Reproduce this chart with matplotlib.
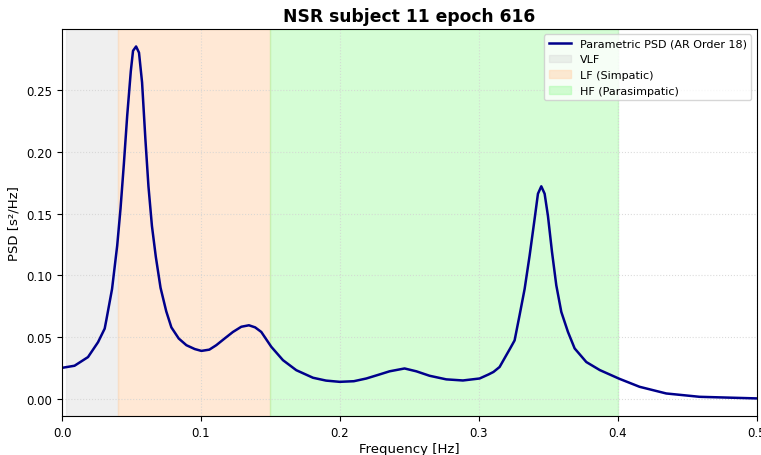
import matplotlib
matplotlib.use("Agg")
import matplotlib.pyplot as plt

# PSD curve (frequency in Hz, PSD in s^2/Hz)
freq = [0.0, 0.009, 0.0187, 0.0259, 0.0307, 0.0319, 0.036, 0.0397, 0.0421,
        0.0445, 0.0469, 0.0495, 0.0511, 0.0533, 0.0554, 0.0576, 0.060,
        0.0622, 0.0647, 0.0675, 0.0709, 0.075, 0.0787, 0.084, 0.0895, 0.0955,
        0.1003, 0.106, 0.111, 0.117, 0.123, 0.129, 0.1345, 0.139, 0.1434,
        0.1506, 0.159, 0.1686, 0.1806, 0.190, 0.1998, 0.210, 0.219, 0.2286,
        0.2357, 0.2465, 0.255, 0.2645, 0.2765, 0.2885, 0.3005, 0.307, 0.3105,
        0.3149, 0.3197, 0.3225, 0.3257, 0.3293, 0.3329, 0.3365, 0.3401,
        0.3425, 0.3449, 0.3473, 0.3497, 0.3526, 0.3557, 0.3593, 0.3641,
        0.3689, 0.3773, 0.387, 0.401, 0.4156, 0.4348, 0.4588, 0.5]
psd = [0.0253, 0.027, 0.034, 0.046, 0.057, 0.064, 0.089, 0.124, 0.154,
       0.190, 0.229, 0.265, 0.2815, 0.285, 0.280, 0.256, 0.210,
       0.172, 0.140, 0.115, 0.090, 0.071, 0.058, 0.049, 0.0436, 0.0405,
       0.039, 0.040, 0.0436, 0.049, 0.0543, 0.0585, 0.0597, 0.058, 0.0543,
       0.0423, 0.0315, 0.0234, 0.0173, 0.015, 0.014, 0.0145, 0.0167, 0.020,
       0.0225, 0.0248, 0.0225, 0.0189, 0.016, 0.0151, 0.0167, 0.020, 0.022,
       0.026, 0.0355, 0.041, 0.0475, 0.068, 0.089, 0.116, 0.1457,
       0.166, 0.172, 0.166, 0.148, 0.119, 0.092, 0.0705, 0.0543,
       0.041, 0.030, 0.0235, 0.0165, 0.010, 0.0046, 0.0019, 0.0006]

# frequency bands
bands = [("VLF", 0.003, 0.04), ("LF (Simpatic)", 0.04, 0.15),
         ("HF (Parasimpatic)", 0.15, 0.4)]
band_colors = ["lightgray", "peachpuff", "palegreen"]
band_alpha = [0.35, 0.6, 0.4]

fig = plt.figure(figsize=(7.61, 4.56), dpi=100)
ax = fig.add_axes([0.0815, 0.0855, 0.913, 0.849])

ax.plot(freq, psd, color="darkblue", linewidth=1.8,
        solid_joinstyle="round", label="Parametric PSD (AR Order 18)")

for (name, lo, hi), c, a in zip(bands, band_colors, band_alpha):
    ax.axvspan(lo, hi, color=c, alpha=a, label=name)

ax.set_xlim(0, 0.5)
ax.set_title("NSR subject 11 epoch 616", fontweight="bold", fontsize=12.3)
ax.set_xlabel("Frequency [Hz]", fontsize=9.5, labelpad=2)
ax.set_ylabel("PSD [s²/Hz]", fontsize=9.5)
ax.tick_params(labelsize=8.5)
ax.grid(True, linestyle=":", color="lightgray", alpha=0.8)
ax.legend(loc="upper right", fontsize=8)

fig.savefig("out.png")
